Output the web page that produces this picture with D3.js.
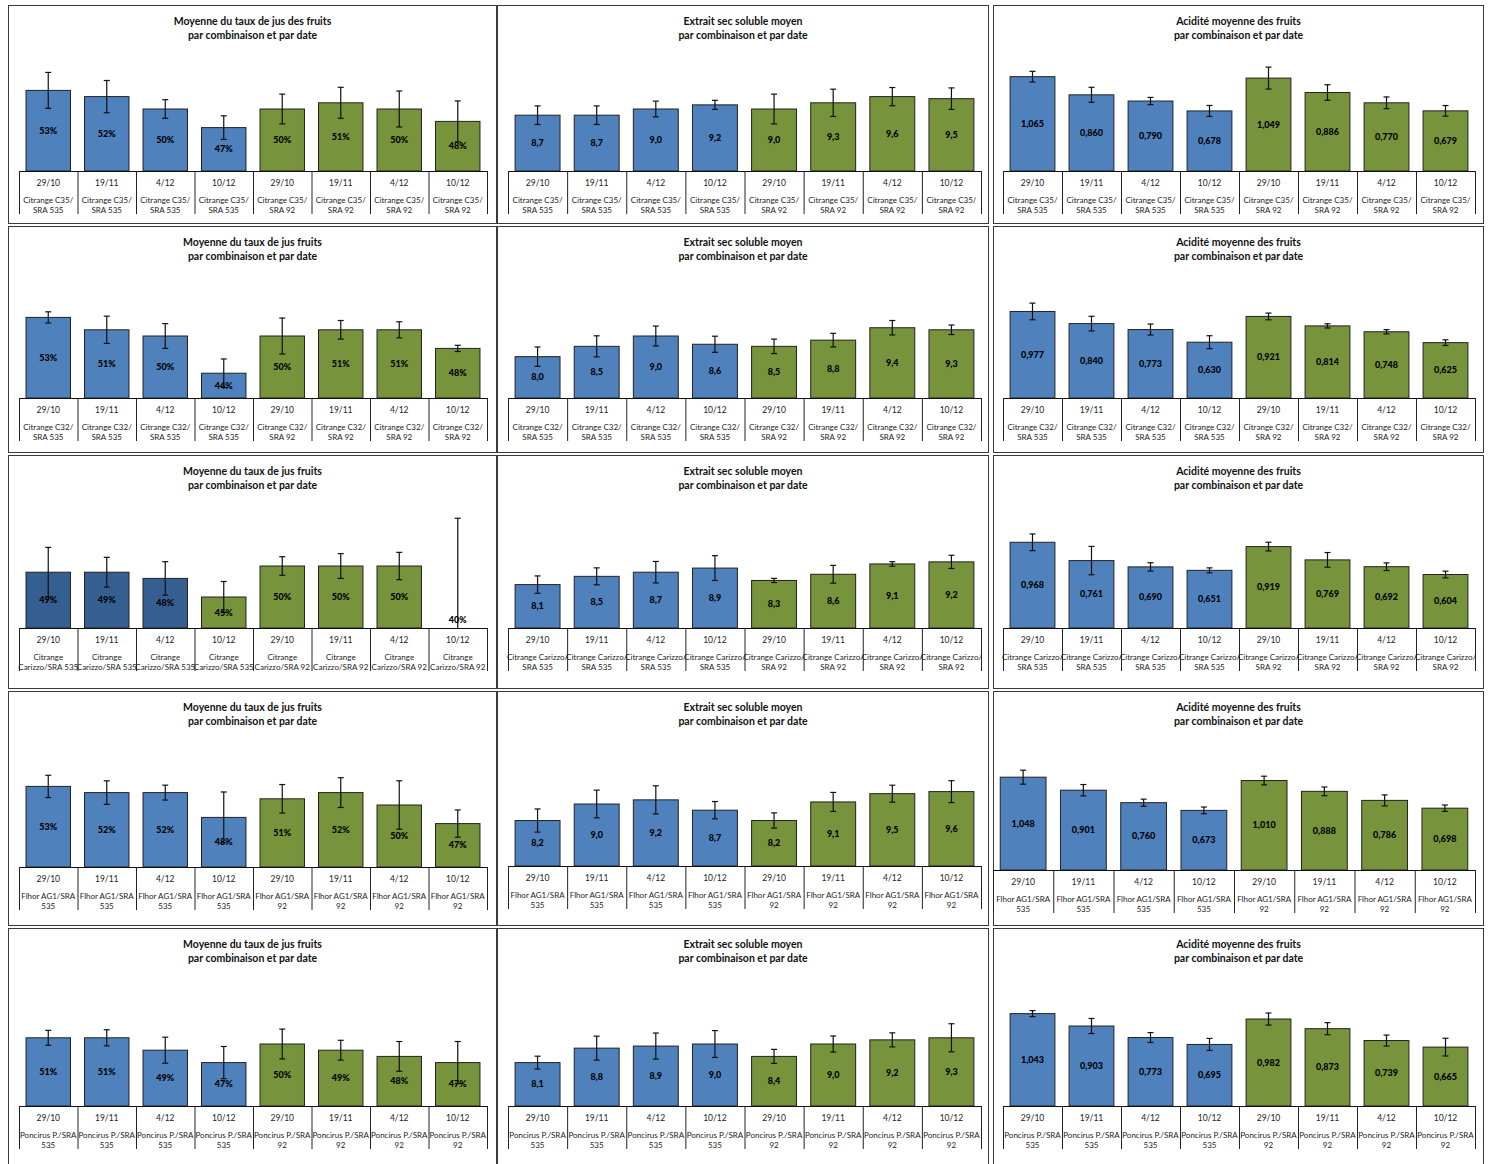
<!DOCTYPE html>
<html>
<head>
<meta charset="utf-8">
<script src="https://cdn.jsdelivr.net/npm/d3@7"></script>
<style>
  body { margin: 0; background: #fff; }
  svg { display: block; font-family: Lato, 'Open Sans', sans-serif; }
</style>
</head>
<body>
<svg id="chart" width="1493" height="1164"></svg>
<script>
// categories
const DATES = ['29/10', '19/11', '4/12', '10/12', '29/10', '19/11', '4/12', '10/12'];
const COMBOS = [
  [['Citrange C35/', 'SRA 535'], ['Citrange C35/', 'SRA 92']],
  [['Citrange C32/', 'SRA 535'], ['Citrange C32/', 'SRA 92']],
  [['Citrange Carizzo/', 'SRA 535'], ['Citrange Carizzo/', 'SRA 92']],
  [['Flhor AG1/SRA', '535'], ['Flhor AG1/SRA', '92']],
  [['Poncirus P./SRA', '535'], ['Poncirus P./SRA', '92']],
];
const COMBOS_CARIZZO_JUS = [['Citrange', 'Carizzo/SRA 535'], ['Citrange', 'Carizzo/SRA 92']];

// juice rate (taux de jus)
const JUS_C35 = [0.53, 0.52, 0.50, 0.47, 0.50, 0.51, 0.50, 0.48];
const JUS_C35_ERR = [0.029, 0.026, 0.015, 0.019, 0.024, 0.025, 0.029, 0.033];
const JUS_C32 = [0.53, 0.51, 0.50, 0.44, 0.50, 0.51, 0.51, 0.48];
const JUS_C32_ERR = [0.009, 0.022, 0.020, 0.023, 0.029, 0.015, 0.013, 0.005];
const JUS_CARIZZO = [0.49, 0.49, 0.48, 0.45, 0.50, 0.50, 0.50, 0.40];
const JUS_CARIZZO_ERR = [0.040, 0.024, 0.027, 0.025, 0.015, 0.020, 0.022, 0.177];
const JUS_FLHOR = [0.53, 0.52, 0.52, 0.48, 0.51, 0.52, 0.50, 0.47];
const JUS_FLHOR_ERR = [0.018, 0.019, 0.012, 0.041, 0.023, 0.024, 0.039, 0.022];
const JUS_PONCIRUS = [0.51, 0.51, 0.49, 0.47, 0.50, 0.49, 0.48, 0.47];
const JUS_PONCIRUS_ERR = [0.012, 0.013, 0.021, 0.026, 0.024, 0.016, 0.024, 0.034];

// extrait sec soluble
const ESS_C35 = [8.7, 8.7, 9.0, 9.2, 9.0, 9.3, 9.6, 9.5];
const ESS_C35_ERR = [0.45, 0.45, 0.38, 0.22, 0.72, 0.66, 0.44, 0.52];
const ESS_C32 = [8.0, 8.5, 9.0, 8.6, 8.5, 8.8, 9.4, 9.3];
const ESS_C32_ERR = [0.47, 0.51, 0.48, 0.39, 0.35, 0.33, 0.35, 0.23];
const ESS_CARIZZO = [8.1, 8.5, 8.7, 8.9, 8.3, 8.6, 9.1, 9.2];
const ESS_CARIZZO_ERR = [0.42, 0.41, 0.52, 0.60, 0.10, 0.43, 0.11, 0.32];
const ESS_FLHOR = [8.2, 9.0, 9.2, 8.7, 8.2, 9.1, 9.5, 9.6];
const ESS_FLHOR_ERR = [0.56, 0.67, 0.68, 0.42, 0.37, 0.46, 0.41, 0.53];
const ESS_PONCIRUS = [8.1, 8.8, 8.9, 9.0, 8.4, 9.0, 9.2, 9.3];
const ESS_PONCIRUS_ERR = [0.31, 0.58, 0.63, 0.65, 0.34, 0.39, 0.34, 0.68];

// acidité
const ACI_C35 = [1.065, 0.860, 0.790, 0.678, 1.049, 0.886, 0.770, 0.679];
const ACI_C35_ERR = [0.060, 0.085, 0.041, 0.062, 0.124, 0.088, 0.066, 0.060];
const ACI_C32 = [0.977, 0.840, 0.773, 0.630, 0.921, 0.814, 0.748, 0.625];
const ACI_C32_ERR = [0.094, 0.083, 0.062, 0.073, 0.038, 0.024, 0.024, 0.032];
const ACI_CARIZZO = [0.968, 0.761, 0.690, 0.651, 0.919, 0.769, 0.692, 0.604];
const ACI_CARIZZO_ERR = [0.094, 0.160, 0.047, 0.028, 0.049, 0.083, 0.043, 0.038];
const ACI_FLHOR = [1.048, 0.901, 0.760, 0.673, 1.010, 0.888, 0.786, 0.698];
const ACI_FLHOR_ERR = [0.079, 0.064, 0.040, 0.038, 0.049, 0.049, 0.062, 0.036];
const ACI_PONCIRUS = [1.043, 0.903, 0.773, 0.695, 0.982, 0.873, 0.739, 0.665];
const ACI_PONCIRUS_ERR = [0.034, 0.085, 0.056, 0.068, 0.068, 0.068, 0.062, 0.100];

const BLUE = '#4F81BD';
const DARK_BLUE = '#365F91';
const GREEN = '#77933C';
const COLORS_DEFAULT = [BLUE, BLUE, BLUE, BLUE, GREEN, GREEN, GREEN, GREEN];
const COLORS_CARIZZO_JUS = [DARK_BLUE, DARK_BLUE, DARK_BLUE, GREEN, GREEN, GREEN, GREEN, GREEN];

const KINDS = {
  jus: { domain: [0.40, 0.60], fmt: d => d3.format('.0%')(d) },
  ess: { domain: [6, 12], fmt: d => d3.format('.1f')(d).replace('.', ',') },
  aci: { domain: [0, 1.4], fmt: d => d3.format('.3f')(d).replace('.', ',') },
};
const TITLES = {
  jusDes: ['Moyenne du taux de jus des fruits', 'par combinaison et par date'],
  jus: ['Moyenne du taux de jus fruits', 'par combinaison et par date'],
  ess: ['Extrait sec soluble moyen', 'par combinaison et par date'],
  aci: ['Acidité moyenne des fruits', 'par combinaison et par date'],
};

// grid layout
const ROW_TOP = [5, 226, 455, 691, 928];
const ROW_BOTTOM = [223, 452, 688, 925, 1180];
const ROW_BASE = [171, 398, 628, 867, 1106];
const COL_LEFT = [8, 497, 993];
const COL_RIGHT = [497, 989, 1484];
const COL_PLOT = [[19, 487], [508, 981], [1003, 1475]];
const PLOT_H = 124;

const rowsData = [
  [['jusDes', 'jus', JUS_C35, JUS_C35_ERR], ['ess', 'ess', ESS_C35, ESS_C35_ERR], ['aci', 'aci', ACI_C35, ACI_C35_ERR]],
  [['jus', 'jus', JUS_C32, JUS_C32_ERR], ['ess', 'ess', ESS_C32, ESS_C32_ERR], ['aci', 'aci', ACI_C32, ACI_C32_ERR]],
  [['jus', 'jus', JUS_CARIZZO, JUS_CARIZZO_ERR], ['ess', 'ess', ESS_CARIZZO, ESS_CARIZZO_ERR], ['aci', 'aci', ACI_CARIZZO, ACI_CARIZZO_ERR]],
  [['jus', 'jus', JUS_FLHOR, JUS_FLHOR_ERR], ['ess', 'ess', ESS_FLHOR, ESS_FLHOR_ERR], ['aci', 'aci', ACI_FLHOR, ACI_FLHOR_ERR]],
  [['jus', 'jus', JUS_PONCIRUS, JUS_PONCIRUS_ERR], ['ess', 'ess', ESS_PONCIRUS, ESS_PONCIRUS_ERR], ['aci', 'aci', ACI_PONCIRUS, ACI_PONCIRUS_ERR]],
];

const svg = d3.select('#chart');

rowsData.forEach((cols, r) => {
  cols.forEach(([titleKey, kindKey, values, errors], c) => {
    const kind = KINDS[kindKey];
    const isCarizzoJus = r === 2 && c === 0;
    let [px0, px1] = COL_PLOT[c];
    let base = ROW_BASE[r];
    if (r === 3 && c === 2) { px0 = 993; base = 870; }
    if (r === 3 && c === 1) base = 866;

    const g = svg.append('g');

    g.append('rect')
      .attr('x', COL_LEFT[c] + 0.5).attr('y', ROW_TOP[r] + 0.5)
      .attr('width', COL_RIGHT[c] - COL_LEFT[c] - 1)
      .attr('height', ROW_BOTTOM[r] - ROW_TOP[r])
      .attr('fill', '#fff').attr('stroke', '#3a3a3a').attr('stroke-width', 1);

    const cx = (COL_LEFT[c] + COL_RIGHT[c]) / 2;
    TITLES[titleKey].forEach((line, i) => {
      g.append('text')
        .attr('x', cx).attr('y', ROW_TOP[r] + 20 + i * 14)
        .attr('text-anchor', 'middle')
        .attr('font-size', 10.5).attr('font-weight', 700).attr('fill', '#111')
        .text(line);
    });

    const cats = d3.range(values.length);
    const x = d3.scaleBand().domain(cats).range([px0, px1]).paddingInner(0.24).paddingOuter(0.12);
    const y = d3.scaleLinear().domain(kind.domain).range([base, base - PLOT_H]);
    const colors = isCarizzoJus ? COLORS_CARIZZO_JUS : COLORS_DEFAULT;

    // bars
    g.selectAll('rect.bar').data(values).join('rect')
      .attr('class', 'bar')
      .attr('x', (d, i) => x(i))
      .attr('y', d => y(d))
      .attr('width', x.bandwidth())
      .attr('height', d => Math.max(0, base - y(d)))
      .attr('fill', (d, i) => colors[i])
      .attr('stroke', '#222').attr('stroke-width', 1);

    // value labels
    g.selectAll('text.val').data(values).join('text')
      .attr('class', 'val')
      .attr('x', (d, i) => x(i) + x.bandwidth() / 2)
      .attr('y', d => Math.min((y(d) + base) / 2, base - 8) + 3)
      .attr('text-anchor', 'middle')
      .attr('font-size', 9).attr('font-weight', 900).attr('fill', '#000')
      .text(d => kind.fmt(d));

    // error bars
    const eb = g.selectAll('g.err').data(values.map((v, i) => ({ v, e: errors[i], i }))).join('g')
      .attr('class', 'err');
    const yTop = d => Math.max(base - PLOT_H, y(d.v + d.e));
    const yBot = d => Math.min(base, y(d.v - d.e));
    const xc = d => x(d.i) + x.bandwidth() / 2;
    eb.append('line')
      .attr('x1', xc).attr('x2', xc).attr('y1', yTop).attr('y2', yBot)
      .attr('stroke', '#111').attr('stroke-width', 1.2);
    eb.append('line')
      .attr('x1', d => xc(d) - 3).attr('x2', d => xc(d) + 3).attr('y1', yTop).attr('y2', yTop)
      .attr('stroke', '#111').attr('stroke-width', 1.2);
    eb.filter(d => y(d.v - d.e) <= base).append('line')
      .attr('x1', d => xc(d) - 3).attr('x2', d => xc(d) + 3).attr('y1', yBot).attr('y2', yBot)
      .attr('stroke', '#111').attr('stroke-width', 1.2);

    // category axis as a table
    const step = x.step();
    g.append('line')
      .attr('x1', px0).attr('x2', px1).attr('y1', base + 0.5).attr('y2', base + 0.5)
      .attr('stroke', '#111').attr('stroke-width', 1);
    g.selectAll('line.sep').data(d3.range(values.length + 1)).join('line')
      .attr('class', 'sep')
      .attr('x1', i => px0 + i * step + 0.5).attr('x2', i => px0 + i * step + 0.5)
      .attr('y1', base).attr('y2', base + 43)
      .attr('stroke', '#222').attr('stroke-width', 1);

    const combos = isCarizzoJus ? COMBOS_CARIZZO_JUS : COMBOS[r];
    cats.forEach(i => {
      const tx = x(i) + x.bandwidth() / 2;
      g.append('text')
        .attr('x', tx).attr('y', base + 15)
        .attr('text-anchor', 'middle').attr('font-size', 8.5).attr('fill', '#222')
        .text(DATES[i]);
      combos[i < 4 ? 0 : 1].forEach((line, k) => {
        g.append('text')
          .attr('x', tx).attr('y', base + 32 + k * 10)
          .attr('text-anchor', 'middle').attr('font-size', 8).attr('fill', '#222')
          .text(line);
      });
    });
  });
});
</script>
</body>
</html>
